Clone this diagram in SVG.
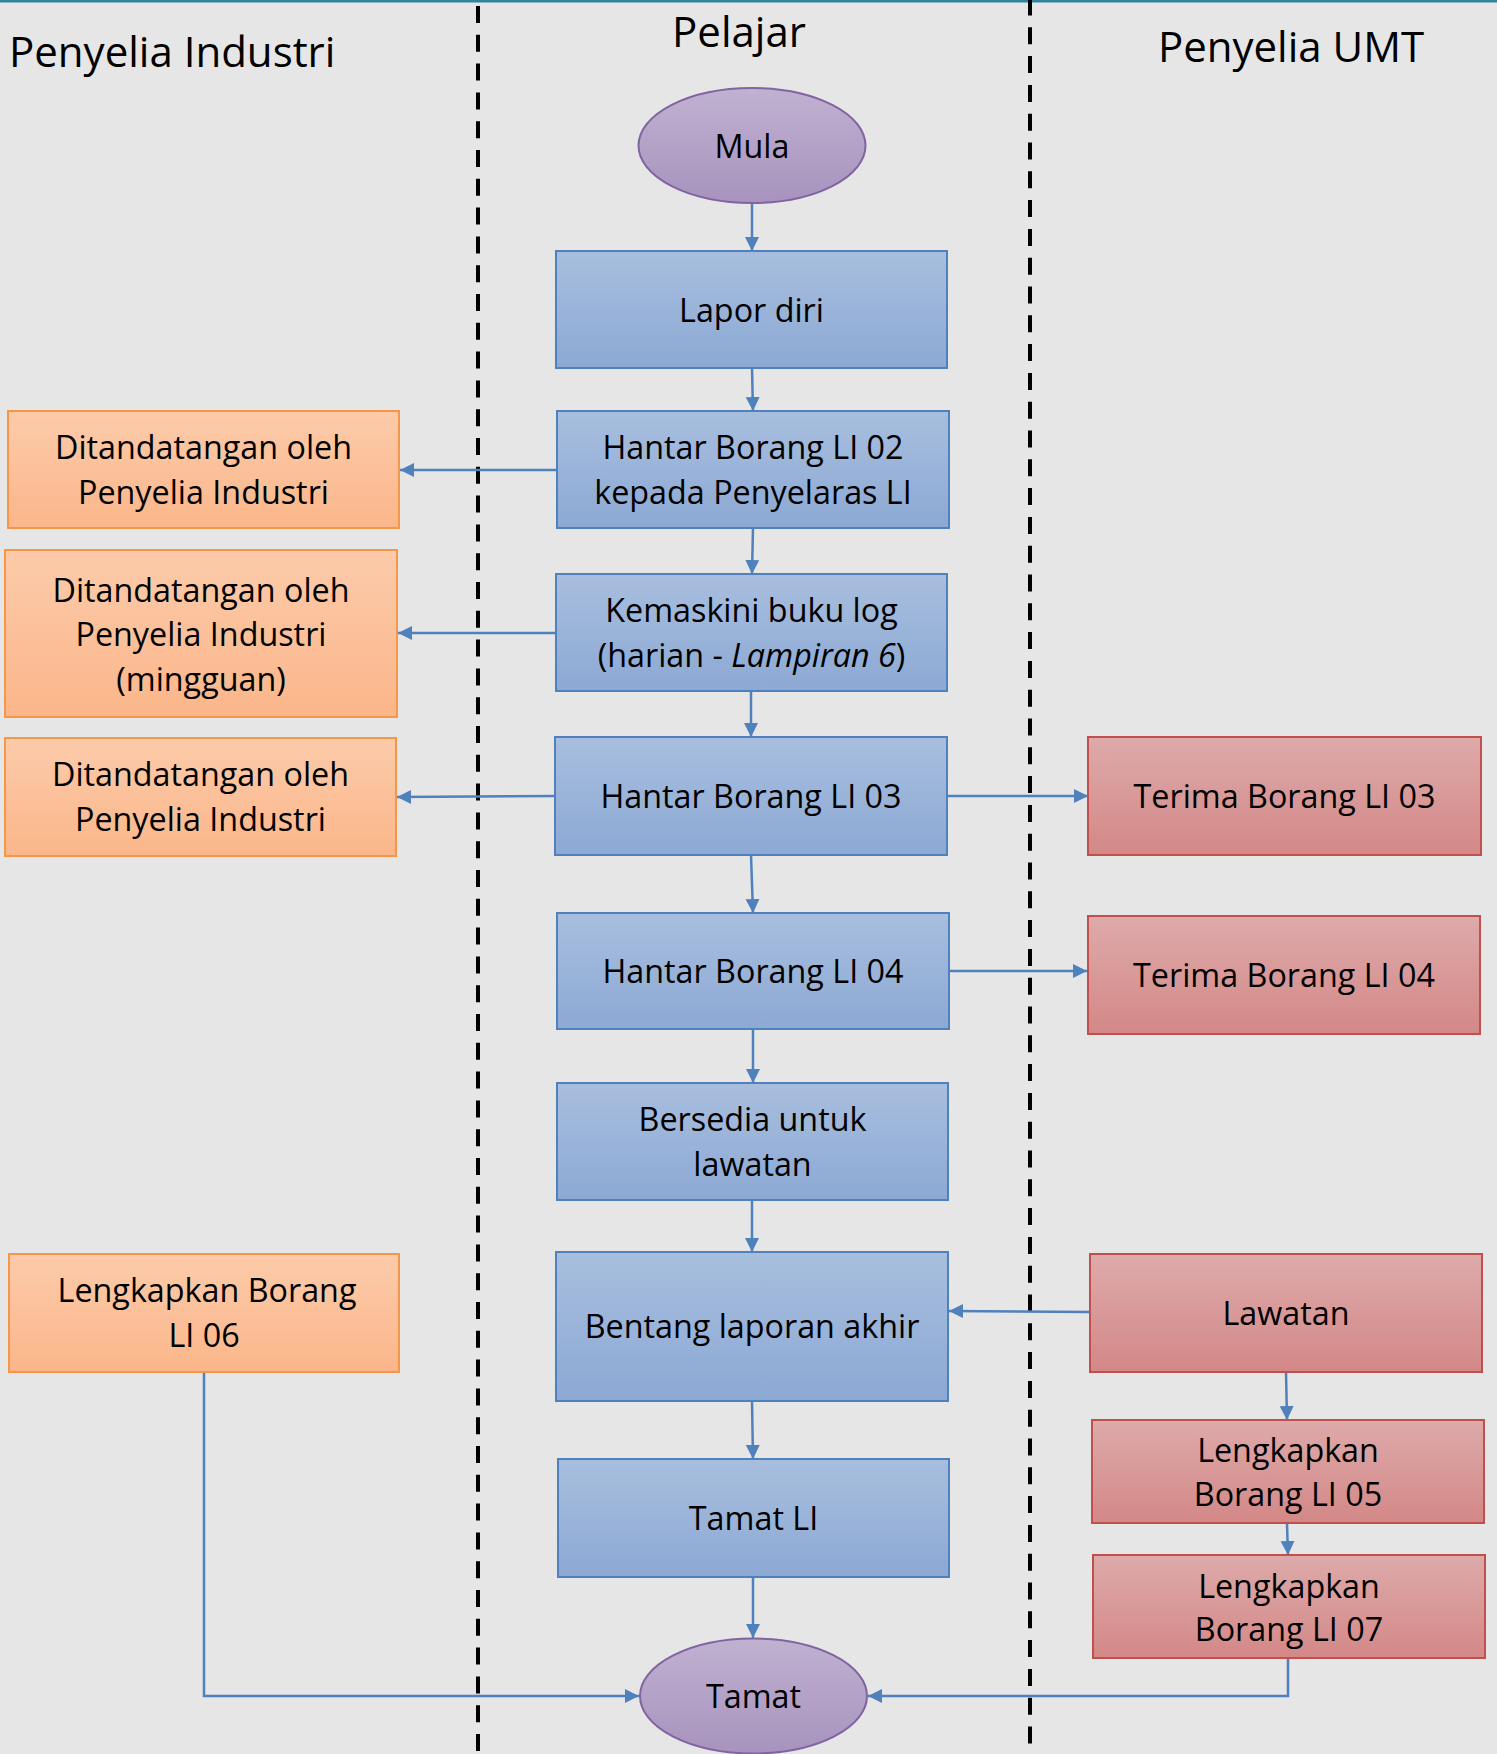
<svg xmlns="http://www.w3.org/2000/svg" width="1497" height="1754" viewBox="0 0 1497 1754">
  <defs>
    <linearGradient id="gBlue" x1="0" y1="0" x2="0" y2="1">
      <stop offset="0" stop-color="#A8BEDE"/>
      <stop offset="1" stop-color="#8CA9D4"/>
    </linearGradient>
    <linearGradient id="gOrange" x1="0" y1="0" x2="0" y2="1">
      <stop offset="0" stop-color="#FCCBAA"/>
      <stop offset="1" stop-color="#FBB68A"/>
    </linearGradient>
    <linearGradient id="gRed" x1="0" y1="0" x2="0" y2="1">
      <stop offset="0" stop-color="#DEAAAA"/>
      <stop offset="1" stop-color="#D38887"/>
    </linearGradient>
    <linearGradient id="gPurple" x1="0" y1="0" x2="0" y2="1">
      <stop offset="0" stop-color="#C0B1D1"/>
      <stop offset="1" stop-color="#A793BD"/>
    </linearGradient>
    <marker id="arrow" markerUnits="userSpaceOnUse" markerWidth="16" markerHeight="16" refX="14" refY="7" orient="auto">
      <path d="M0,0 L14,7 L0,14 z" fill="#4F81BD"/>
    </marker>
  </defs>
  <style>
    text { font-family: "Open Sans", "Noto Sans", "Liberation Sans", sans-serif; fill: #000; }
    .lbl { font-size: 32.3px; text-anchor: middle; }
    .hdr { font-size: 42px; }
    .blue { fill: url(#gBlue); stroke: #4F81BD; stroke-width: 2; }
    .orange { fill: url(#gOrange); stroke: #F79646; stroke-width: 2; }
    .red { fill: url(#gRed); stroke: #C0504D; stroke-width: 2; }
    .term { fill: url(#gPurple); stroke: #8064A2; stroke-width: 2; }
    .lane { stroke: #000; stroke-width: 4; stroke-dasharray: 17 11.8; fill: none; }
    .conn { stroke: #4F81BD; stroke-width: 2.5; fill: none; marker-end: url(#arrow); }
  </style>

  <!-- background and swimlane frame -->
  <rect x="0" y="0" width="1497" height="1754" fill="#E6E6E6"/>
  <rect x="0" y="0" width="1497" height="2.5" fill="#31849B"/>
  <line class="lane" x1="478" y1="6" x2="478" y2="1754"/>
  <line class="lane" x1="1030" y1="-1.5" x2="1030" y2="1754"/>

  <!-- lane headings -->
  <text class="hdr" x="9" y="67">Penyelia Industri</text>
  <text class="hdr" x="739" y="47" text-anchor="middle">Pelajar</text>
  <text class="hdr" x="1291" y="62" text-anchor="middle">Penyelia UMT</text>

  <!-- connectors -->
  <g id="connectors">
    <path class="conn" d="M752,203 L752,251"/>
    <path class="conn" d="M752,368 L753,411"/>
    <path class="conn" d="M753,528 L752,574"/>
    <path class="conn" d="M751,691 L751,737"/>
    <path class="conn" d="M751,855 L753,913"/>
    <path class="conn" d="M753,1029 L753,1083"/>
    <path class="conn" d="M752,1200 L752,1252"/>
    <path class="conn" d="M752,1401 L753,1459"/>
    <path class="conn" d="M753,1577 L753,1638"/>
    <path class="conn" d="M557,470 L400,470"/>
    <path class="conn" d="M556,633 L398,633"/>
    <path class="conn" d="M555,796 L397,797"/>
    <path class="conn" d="M947,796 L1088,796"/>
    <path class="conn" d="M949,971 L1087,971"/>
    <path class="conn" d="M1090,1312 L949,1311"/>
    <path class="conn" d="M1286,1372 L1287,1420"/>
    <path class="conn" d="M1287,1523 L1288,1555"/>
    <path class="conn" d="M1288,1658 L1288,1696 L868,1696"/>
    <path class="conn" d="M204,1372 L204,1696 L639,1696"/>
  </g>

  <!-- Pelajar lane -->
  <g id="mula">
    <ellipse class="term" cx="752" cy="145.5" rx="113.5" ry="57.5"/>
    <text class="lbl" x="752" y="158">Mula</text>
  </g>
  <g id="lapor-diri">
    <rect class="blue" x="556" y="251" width="391" height="117"/>
    <text class="lbl" x="751.5" y="322">Lapor diri</text>
  </g>
  <g id="hantar-li02">
    <rect class="blue" x="557" y="411" width="392" height="117"/>
    <text class="lbl" x="753" y="459">Hantar Borang LI 02</text>
    <text class="lbl" x="753" y="504">kepada Penyelaras LI</text>
  </g>
  <g id="kemaskini-log">
    <rect class="blue" x="556" y="574" width="391" height="117"/>
    <text class="lbl" x="751.5" y="622">Kemaskini buku log</text>
    <text class="lbl" x="751.5" y="667">(harian - <tspan font-style="italic">Lampiran 6</tspan>)</text>
  </g>
  <g id="hantar-li03">
    <rect class="blue" x="555" y="737" width="392" height="118"/>
    <text class="lbl" x="751" y="808">Hantar Borang LI 03</text>
  </g>
  <g id="hantar-li04">
    <rect class="blue" x="557" y="913" width="392" height="116"/>
    <text class="lbl" x="753" y="983">Hantar Borang LI 04</text>
  </g>
  <g id="bersedia-lawatan">
    <rect class="blue" x="557" y="1083" width="391" height="117"/>
    <text class="lbl" x="752.5" y="1131">Bersedia untuk</text>
    <text class="lbl" x="752.5" y="1176">lawatan</text>
  </g>
  <g id="bentang-laporan">
    <rect class="blue" x="556" y="1252" width="392" height="149"/>
    <text class="lbl" x="752" y="1338">Bentang laporan akhir</text>
  </g>
  <g id="tamat-li">
    <rect class="blue" x="558" y="1459" width="391" height="118"/>
    <text class="lbl" x="753.5" y="1530">Tamat LI</text>
  </g>
  <g id="tamat">
    <ellipse class="term" cx="753.5" cy="1696" rx="113.5" ry="57.5"/>
    <text class="lbl" x="753.5" y="1708">Tamat</text>
  </g>

  <!-- Penyelia Industri lane -->
  <g id="tandatangan-li02">
    <rect class="orange" x="8" y="411" width="391" height="117"/>
    <text class="lbl" x="203.5" y="459">Ditandatangan oleh</text>
    <text class="lbl" x="203.5" y="504">Penyelia Industri</text>
  </g>
  <g id="tandatangan-mingguan">
    <rect class="orange" x="5" y="550" width="392" height="167"/>
    <text class="lbl" x="201" y="602">Ditandatangan oleh</text>
    <text class="lbl" x="201" y="646">Penyelia Industri</text>
    <text class="lbl" x="201" y="691">(mingguan)</text>
  </g>
  <g id="tandatangan-li03">
    <rect class="orange" x="5" y="738" width="391" height="118"/>
    <text class="lbl" x="200.5" y="786">Ditandatangan oleh</text>
    <text class="lbl" x="200.5" y="831">Penyelia Industri</text>
  </g>
  <g id="lengkapkan-li06">
    <rect class="orange" x="9" y="1254" width="390" height="118"/>
    <text class="lbl" x="207" y="1302">Lengkapkan Borang</text>
    <text class="lbl" x="204" y="1347">LI 06</text>
  </g>

  <!-- Penyelia UMT lane -->
  <g id="terima-li03">
    <rect class="red" x="1088" y="737" width="393" height="118"/>
    <text class="lbl" x="1284.5" y="808">Terima Borang LI 03</text>
  </g>
  <g id="terima-li04">
    <rect class="red" x="1088" y="916" width="392" height="118"/>
    <text class="lbl" x="1284" y="987">Terima Borang LI 04</text>
  </g>
  <g id="lawatan">
    <rect class="red" x="1090" y="1254" width="392" height="118"/>
    <text class="lbl" x="1286" y="1325">Lawatan</text>
  </g>
  <g id="lengkapkan-li05">
    <rect class="red" x="1092" y="1420" width="392" height="103"/>
    <text class="lbl" x="1288" y="1462">Lengkapkan</text>
    <text class="lbl" x="1288" y="1506">Borang LI 05</text>
  </g>
  <g id="lengkapkan-li07">
    <rect class="red" x="1093" y="1555" width="392" height="103"/>
    <text class="lbl" x="1289" y="1598">Lengkapkan</text>
    <text class="lbl" x="1289" y="1641">Borang LI 07</text>
  </g>
</svg>
